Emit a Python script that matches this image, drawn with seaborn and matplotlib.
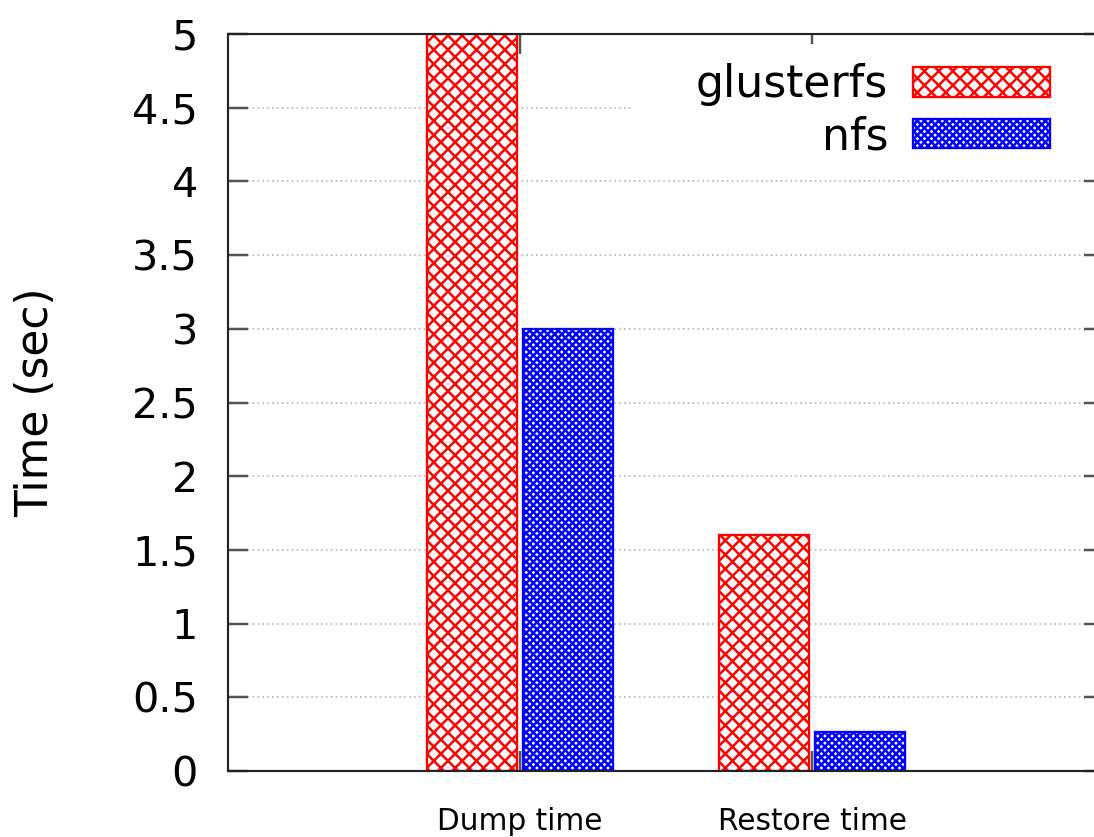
import matplotlib
matplotlib.use("Agg")
import matplotlib.pyplot as plt
import seaborn as sns
import pandas as pd
from matplotlib.patches import Rectangle

# ---- data ----
categories = ["Dump time", "Restore time"]
series_names = ["glusterfs", "nfs"]
glusterfs_times = [5.0, 1.6]
nfs_times = [3.0, 0.265]
y_ticks = [0, 0.5, 1, 1.5, 2, 2.5, 3, 3.5, 4, 4.5, 5]
y_tick_labels = ["0", "0.5", "1", "1.5", "2", "2.5", "3", "3.5", "4", "4.5", "5"]

df = pd.DataFrame({
    "task": categories * 2,
    "fs": [series_names[0]] * len(categories) + [series_names[1]] * len(categories),
    "time": glusterfs_times + nfs_times,
})

sns.set_style("white")
plt.rcParams["font.family"] = ["DejaVu Sans"]
plt.rcParams["hatch.linewidth"] = 1.4
plt.rcParams["text.color"] = "black"
plt.rcParams["axes.labelcolor"] = "black"
plt.rcParams["xtick.labelcolor"] = "black"
plt.rcParams["ytick.labelcolor"] = "black"

DPI = 128
W, H = 1094, 837
fig = plt.figure(figsize=(W / DPI, H / DPI), dpi=DPI)
ax = fig.add_axes([228 / W, 66 / H, 876 / W, 737 / H])

sns.barplot(data=df, x="task", y="time", hue="fs", order=categories,
            hue_order=series_names, palette=["red", "blue"], width=0.66,
            gap=0.067, errorbar=None, legend=False, ax=ax)

styles = {"glusterfs": ("red", "xxx"), "nfs": ("blue", "xxxxxx")}
for cont, name in zip(ax.containers, series_names):
    col, h = styles[name]
    for p in cont.patches:
        p.set_facecolor("white")
        p.set_edgecolor(col)
        p.set_hatch(h)
        p.set_linewidth(1.3)

ax.set_xlim(-1, 2)
ax.set_ylim(0, 5)
ax.set_yticks(y_ticks, y_tick_labels)
ax.tick_params(axis="both", direction="in", length=11.25, width=1.4,
               color="#555555", top=True, right=True, left=True, bottom=True)
ax.tick_params(axis="y", labelsize=23.3, pad=16.9, labelcolor="black")
ax.tick_params(axis="x", labelsize=16.7, pad=20.5, labelcolor="black")
for s in ax.spines.values():
    s.set_visible(True)
    s.set_color("#222222")
    s.set_linewidth(1.2)

ax.set_axisbelow(True)
ax.yaxis.grid(True, color="#c8c8c8", linestyle=(0, (1, 1.5)), linewidth=1.1)
ax.xaxis.grid(False)

ax.set_xlabel("")
ax.set_ylabel("Time (sec)", fontsize=24.7, labelpad=42, color="black")

# opaque legend area (hides grid behind it)
ax.add_patch(Rectangle((0.461, 0.822), 0.6, 0.165, transform=ax.transAxes,
                       facecolor="white", edgecolor="none", zorder=0.7))

ax.legend(handles=[c.patches[0] for c in ax.containers], labels=series_names,
          loc="upper right", bbox_to_anchor=(0.9384, 0.960), borderpad=0,
          borderaxespad=0, frameon=False, markerfirst=False, handlelength=3.1,
          handleheight=0.64, handletextpad=0.57, labelspacing=0.2,
          fontsize=24.8, labelcolor="black")

fig.savefig("out.png", dpi=DPI)
